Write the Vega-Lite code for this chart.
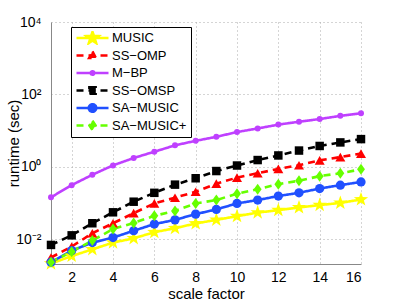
{
  "$schema": "https://vega.github.io/schema/vega-lite/v6.json",
  "autosize": {"type": "none"},
  "width": 310,
  "height": 242,
  "padding": {"left": 51, "top": 22, "right": 37, "bottom": 36},
  "background": "white",
  "config": {
    "font": "Liberation Sans",
    "view": {"stroke": null},
    "axis": {
      "labelFont": "Liberation Sans",
      "titleFont": "Liberation Sans",
      "labelFontSize": 14,
      "titleFontSize": 15,
      "titleFontWeight": "normal",
      "labelColor": "#000",
      "titleColor": "#000",
      "domainColor": "#888",
      "ticks": false,
      "gridColor": "#aaa",
      "gridDash": [1, 3],
      "gridWidth": 1
    }
  },
  "data": {"values": [
    {"x":1,"y":0.0021,"series":"MUSIC"},{"x":2,"y":0.0034,"series":"MUSIC"},{"x":3,"y":0.0052,"series":"MUSIC"},{"x":4,"y":0.008,"series":"MUSIC"},{"x":5,"y":0.0105,"series":"MUSIC"},{"x":6,"y":0.0155,"series":"MUSIC"},{"x":7,"y":0.02,"series":"MUSIC"},{"x":8,"y":0.027,"series":"MUSIC"},{"x":9,"y":0.034,"series":"MUSIC"},{"x":10,"y":0.043,"series":"MUSIC"},{"x":11,"y":0.054,"series":"MUSIC"},{"x":12,"y":0.063,"series":"MUSIC"},{"x":13,"y":0.075,"series":"MUSIC"},{"x":14,"y":0.087,"series":"MUSIC"},{"x":15,"y":0.1,"series":"MUSIC"},{"x":16,"y":0.124,"series":"MUSIC"},
    {"x":1,"y":0.0031,"series":"SS-OMP"},{"x":2,"y":0.0062,"series":"SS-OMP"},{"x":3,"y":0.0145,"series":"SS-OMP"},{"x":4,"y":0.0274,"series":"SS-OMP"},{"x":5,"y":0.052,"series":"SS-OMP"},{"x":6,"y":0.097,"series":"SS-OMP"},{"x":7,"y":0.139,"series":"SS-OMP"},{"x":8,"y":0.204,"series":"SS-OMP"},{"x":9,"y":0.34,"series":"SS-OMP"},{"x":10,"y":0.5,"series":"SS-OMP"},{"x":11,"y":0.66,"series":"SS-OMP"},{"x":12,"y":0.87,"series":"SS-OMP"},{"x":13,"y":1.1,"series":"SS-OMP"},{"x":14,"y":1.5,"series":"SS-OMP"},{"x":15,"y":1.85,"series":"SS-OMP"},{"x":16,"y":2.3,"series":"SS-OMP"},
    {"x":1,"y":0.143,"series":"M-BP"},{"x":2,"y":0.31,"series":"M-BP"},{"x":3,"y":0.6,"series":"M-BP"},{"x":4,"y":1.09,"series":"M-BP"},{"x":5,"y":1.74,"series":"M-BP"},{"x":6,"y":2.6,"series":"M-BP"},{"x":7,"y":3.9,"series":"M-BP"},{"x":8,"y":5.2,"series":"M-BP"},{"x":9,"y":6.7,"series":"M-BP"},{"x":10,"y":9.1,"series":"M-BP"},{"x":11,"y":11.4,"series":"M-BP"},{"x":12,"y":14.6,"series":"M-BP"},{"x":13,"y":17.5,"series":"M-BP"},{"x":14,"y":20.8,"series":"M-BP"},{"x":15,"y":25.5,"series":"M-BP"},{"x":16,"y":30,"series":"M-BP"},
    {"x":1,"y":0.0069,"series":"SS-OMSP"},{"x":2,"y":0.0127,"series":"SS-OMSP"},{"x":3,"y":0.0274,"series":"SS-OMSP"},{"x":4,"y":0.055,"series":"SS-OMSP"},{"x":5,"y":0.108,"series":"SS-OMSP"},{"x":6,"y":0.19,"series":"SS-OMSP"},{"x":7,"y":0.32,"series":"SS-OMSP"},{"x":8,"y":0.48,"series":"SS-OMSP"},{"x":9,"y":0.76,"series":"SS-OMSP"},{"x":10,"y":1.08,"series":"SS-OMSP"},{"x":11,"y":1.53,"series":"SS-OMSP"},{"x":12,"y":2.05,"series":"SS-OMSP"},{"x":13,"y":2.8,"series":"SS-OMSP"},{"x":14,"y":3.75,"series":"SS-OMSP"},{"x":15,"y":4.7,"series":"SS-OMSP"},{"x":16,"y":5.8,"series":"SS-OMSP"},
    {"x":1,"y":0.0023,"series":"SA-MUSIC"},{"x":2,"y":0.0048,"series":"SA-MUSIC"},{"x":3,"y":0.008,"series":"SA-MUSIC"},{"x":4,"y":0.011,"series":"SA-MUSIC"},{"x":5,"y":0.017,"series":"SA-MUSIC"},{"x":6,"y":0.026,"series":"SA-MUSIC"},{"x":7,"y":0.034,"series":"SA-MUSIC"},{"x":8,"y":0.049,"series":"SA-MUSIC"},{"x":9,"y":0.066,"series":"SA-MUSIC"},{"x":10,"y":0.097,"series":"SA-MUSIC"},{"x":11,"y":0.12,"series":"SA-MUSIC"},{"x":12,"y":0.155,"series":"SA-MUSIC"},{"x":13,"y":0.19,"series":"SA-MUSIC"},{"x":14,"y":0.25,"series":"SA-MUSIC"},{"x":15,"y":0.31,"series":"SA-MUSIC"},{"x":16,"y":0.38,"series":"SA-MUSIC"},
    {"x":1,"y":0.0023,"series":"SA-MUSIC+"},{"x":2,"y":0.0045,"series":"SA-MUSIC+"},{"x":3,"y":0.0091,"series":"SA-MUSIC+"},{"x":4,"y":0.019,"series":"SA-MUSIC+"},{"x":5,"y":0.028,"series":"SA-MUSIC+"},{"x":6,"y":0.044,"series":"SA-MUSIC+"},{"x":7,"y":0.06,"series":"SA-MUSIC+"},{"x":8,"y":0.097,"series":"SA-MUSIC+"},{"x":9,"y":0.12,"series":"SA-MUSIC+"},{"x":10,"y":0.18,"series":"SA-MUSIC+"},{"x":11,"y":0.24,"series":"SA-MUSIC+"},{"x":12,"y":0.33,"series":"SA-MUSIC+"},{"x":13,"y":0.41,"series":"SA-MUSIC+"},{"x":14,"y":0.55,"series":"SA-MUSIC+"},{"x":15,"y":0.66,"series":"SA-MUSIC+"},{"x":16,"y":0.85,"series":"SA-MUSIC+"}
  ]},
  "encoding": {
    "x": {"field": "x", "type": "quantitative",
      "scale": {"domain": [1, 16], "nice": false, "zero": false},
      "axis": {"title": "scale factor", "values": [2,4,6,8,10,12,14,16], "grid": true, "labelPadding": 6,
        "titleY": 29, "titleBaseline": "middle"}},
    "y": {"field": "y", "type": "quantitative",
      "scale": {"type": "log", "domain": [0.00205, 10000], "nice": false},
      "axis": {"title": "runtime (sec)", "values": [0.01, 1, 100, 10000], "grid": true, "labelPadding": 10,
        "titleX": -38, "titleY": 121, "titleBaseline": "middle", "titleAlign": "center", "titleAngle": 270,
        "labelExpr": "datum.value == 10000 ? '10⁴' : datum.value == 100 ? '10²' : datum.value == 1 ? '10⁰' : '10⁻²'"}}
  },
  "layer": [
    {
      "mark": {"type": "line", "strokeWidth": 2.6},
      "encoding": {
        "color": {"field": "series", "type": "nominal",
          "scale": {"domain": ["MUSIC","SS-OMP","M-BP","SS-OMSP","SA-MUSIC","SA-MUSIC+"],
                    "range": ["#ffff00","#ff0000","#bf40ff","#000000","#2050ff","#66ff00"]},
          "legend": {
            "title": null,
            "orient": "none",
            "legendX": 20,
            "legendY": 5,
            "padding": 4,
            "strokeColor": "#000",
            "fillColor": "#fff",
            "cornerRadius": 0,
            "labelFont": "Liberation Sans",
            "labelFontSize": 13,
            "labelColor": "#000",
            "labelOffset": 2,
            "symbolSize": 1024,
            "symbolStrokeWidth": 2.4,
            "symbolOpacity": 1,
            "clipHeight": 14,
            "rowPadding": 3.5,
            "labelExpr": "replace(datum.label, '-', '−')",
            "encode": {"symbols": {"update": {
              "shape": {"signal": "datum.value == 'MUSIC' ? 'M-1,0L1,0M0,-0.4L0.094,-0.129L0.38,-0.124L0.152,0.049L0.235,0.324L0,0.16L-0.235,0.324L-0.152,0.049L-0.38,-0.124L-0.094,-0.129Z' : datum.value == 'SS-OMP' ? 'M-1,0L1,0M0,-0.26L0.22,0.16L-0.22,0.16Z' : datum.value == 'M-BP' ? 'M-1,0L1,0M0.12,0A0.12,0.12,0,1,1,-0.12,0A0.12,0.12,0,1,1,0.12,0Z' : datum.value == 'SS-OMSP' ? 'M-1,0L1,0M-0.2,-0.2L0.2,-0.2L0.2,0.2L-0.2,0.2Z' : datum.value == 'SA-MUSIC' ? 'M-1,0L1,0M0.24,0A0.24,0.24,0,1,1,-0.24,0A0.24,0.24,0,1,1,0.24,0Z' : 'M-1,0L1,0M0,-0.3L0.2,0L0,0.3L-0.2,0Z'"},
              "fill": {"scale": "color", "field": "value"},
              "stroke": {"scale": "color", "field": "value"},
              "strokeDash": {"signal": "(datum.value == 'SS-OMP' || datum.value == 'SS-OMSP' || datum.value == 'SA-MUSIC+') ? [6,5] : [1,0]"}
            }}}
          }
        },
        "strokeDash": {"field": "series", "type": "nominal", "legend": null,
          "scale": {"domain": ["MUSIC","SS-OMP","M-BP","SS-OMSP","SA-MUSIC","SA-MUSIC+"],
                    "range": [[1,0],[7,5],[1,0],[7,5],[1,0],[7,5]]}}
      }
    },
    {
      "transform": [{"filter": "datum.series == 'MUSIC'"}],
      "mark": {"type": "point", "filled": true, "opacity": 1, "color": "#ffff00", "size": 225,
        "shape": "M0,-1L0.235,-0.324L0.951,-0.309L0.38,0.124L0.588,0.809L0,0.4L-0.588,0.809L-0.38,0.124L-0.951,-0.309L-0.235,-0.324Z"}
    },
    {
      "transform": [{"filter": "datum.series == 'SS-OMP'"}],
      "mark": {"type": "point", "filled": true, "opacity": 1, "color": "#ff0000", "size": 100, "shape": "triangle-up"}
    },
    {
      "transform": [{"filter": "datum.series == 'M-BP'"}],
      "mark": {"type": "point", "filled": true, "opacity": 1, "color": "#bf40ff", "size": 36, "shape": "circle"}
    },
    {
      "transform": [{"filter": "datum.series == 'SS-OMSP'"}],
      "mark": {"type": "point", "filled": true, "opacity": 1, "color": "#000000", "size": 72, "shape": "square"}
    },
    {
      "transform": [{"filter": "datum.series == 'SA-MUSIC'"}],
      "mark": {"type": "point", "filled": true, "opacity": 1, "color": "#2050ff", "size": 85, "shape": "circle"}
    },
    {
      "transform": [{"filter": "datum.series == 'SA-MUSIC+'"}],
      "mark": {"type": "point", "filled": true, "opacity": 1, "color": "#66ff00", "size": 121, "shape": "M0,-1L0.72,0L0,1L-0.72,0Z"}
    }
  ]
}
